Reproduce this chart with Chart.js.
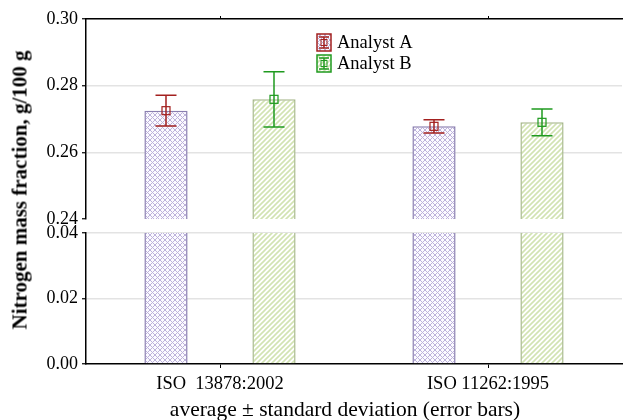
<!DOCTYPE html>
<html><head><meta charset="utf-8">
<script src="https://cdn.jsdelivr.net/npm/chart.js@4/dist/chart.umd.min.js"></script>
<style>
body{margin:0;background:#fff;width:623px;height:420px;overflow:hidden;position:relative;font-family:"Liberation Serif",serif}
canvas{position:absolute;left:0}
#top{top:0}
#bot{top:210px}
#ytitle{position:absolute;left:20px;top:190px;transform:translate(-50%,-50%) rotate(-90deg);white-space:nowrap;font:bold 21px "Liberation Serif",serif;line-height:1;color:#000}
#xtitle{position:absolute;left:345px;top:399px;transform:translateX(-50%);white-space:nowrap;font:21.5px "Liberation Serif",serif;line-height:1;color:#000}
</style></head><body>
<canvas id="top" width="623" height="240"></canvas>
<canvas id="bot" width="623" height="210"></canvas>
<div id="ytitle">Nitrogen mass fraction, g/100 g</div>
<div id="xtitle"></div>
<script>
const categories = ['ISO  13878:2002', 'ISO 11262:1995'];
const seriesNames = ['Analyst A', 'Analyst B'];
const meanA = [0.2725, 0.2678];
const meanB = [0.2759, 0.2690];
const sdA = [0.0046, 0.0020];
const sdB = [0.0083, 0.0040];
const upperTicks = [0.24, 0.26, 0.28, 0.30];
const lowerTicks = [0.00, 0.02, 0.04];
const xTitle = 'average \u00b1 standard deviation (error bars)';
document.getElementById('xtitle').textContent = xTitle;

const FONT = '"Liberation Serif", serif';
const errColors = ['#a3201f', '#1f9a1f'];
const borderColors = ['#8a7fb0', '#a9b98e'];

function makePattern(kind) {
  const c = document.createElement('canvas');
  const g = c.getContext('2d');
  c.width = 5; c.height = 5;
  if (kind === 'cross') {
    g.fillStyle = '#fbfaff'; g.fillRect(0, 0, 5, 5);
    g.strokeStyle = '#bdb2db'; g.lineWidth = 1;
    g.beginPath();
    g.moveTo(0, 0); g.lineTo(5, 5); g.moveTo(5, 0); g.lineTo(0, 5);
    g.stroke();
  } else {
    g.fillStyle = '#ffffff'; g.fillRect(0, 0, 5, 5);
    g.strokeStyle = '#d2e3b3'; g.lineWidth = 1.6;
    g.beginPath();
    g.moveTo(-1, 6); g.lineTo(6, -1);
    g.moveTo(-1, 1); g.lineTo(1, -1);
    g.moveTo(4, 6); g.lineTo(6, 4);
    g.stroke();
  }
  return g.createPattern(c, 'repeat');
}
const patterns = [makePattern('cross'), makePattern('stripe')];
const means = [meanA, meanB];
const sds = [sdA, sdB];

function datasets() {
  return seriesNames.map((name, i) => ({
    label: name,
    data: means[i],
    backgroundColor: patterns[i],
    borderColor: borderColors[i],
    borderWidth: 1.5,
    categoryPercentage: 0.806,
    barPercentage: 0.4,
    clip: 0
  }));
}

const errorBarPlugin = {
  id: 'errbars',
  afterDatasetsDraw(chart) {
    const ctx = chart.ctx, ys = chart.scales.y, a = chart.chartArea;
    ctx.save();
    ctx.beginPath(); ctx.rect(a.left, a.top - 1, a.right - a.left, a.bottom - a.top + 2); ctx.clip();
    chart.data.datasets.forEach((ds, i) => {
      const meta = chart.getDatasetMeta(i);
      meta.data.forEach((bar, j) => {
        const x = bar.x;
        const yT = ys.getPixelForValue(means[i][j] + sds[i][j]);
        const yB = ys.getPixelForValue(means[i][j] - sds[i][j]);
        const yM = ys.getPixelForValue(means[i][j]);
        ctx.strokeStyle = errColors[i]; ctx.lineWidth = 1.5;
        ctx.beginPath();
        ctx.moveTo(x, yT); ctx.lineTo(x, yB);
        ctx.moveTo(x - 10.5, yT); ctx.lineTo(x + 10.5, yT);
        ctx.moveTo(x - 10.5, yB); ctx.lineTo(x + 10.5, yB);
        ctx.stroke();
        ctx.lineWidth = 1.2;
        ctx.strokeRect(x - 4, yM - 4, 8, 8);
      });
    });
    ctx.restore();
  }
};

const legendPlugin = {
  id: 'customLegend',
  afterDraw(chart) {
    const ctx = chart.ctx;
    ctx.save();
    seriesNames.forEach((name, i) => {
      const x0 = 317, y0 = 34 + i * 21, w = 14, h = 17;
      ctx.fillStyle = patterns[i];
      ctx.fillRect(x0, y0, w, h);
      ctx.strokeStyle = errColors[i];
      ctx.lineWidth = 1.5;
      ctx.strokeRect(x0, y0, w, h);
      const cx = x0 + w / 2;
      ctx.beginPath();
      ctx.moveTo(x0 + 2, y0 + 3); ctx.lineTo(x0 + w - 2, y0 + 3);
      ctx.moveTo(x0 + 2, y0 + h - 3); ctx.lineTo(x0 + w - 2, y0 + h - 3);
      ctx.moveTo(cx, y0 + 3); ctx.lineTo(cx, y0 + h - 3);
      ctx.stroke();
      ctx.lineWidth = 1;
      ctx.strokeRect(cx - 3, y0 + h / 2 - 3, 6, 6);
      ctx.fillStyle = '#000';
      ctx.font = '18.5px ' + FONT;
      ctx.textBaseline = 'middle';
      ctx.textAlign = 'left';
      ctx.fillText(name, 337, y0 + h / 2 + 1);
    });
    ctx.restore();
  }
};

function yScale(min, max, tickVals, hideVal) {
  return {
    min: min, max: max,
    afterBuildTicks: s => { s.ticks = tickVals.map(v => ({ value: v })); },
    ticks: { callback: v => Number(v).toFixed(2), font: { family: FONT, size: 18 }, color: '#000', padding: 4 },
    grid: {
      color: c => (c.tick && Math.abs(c.tick.value - hideVal) < 1e-9) ? 'rgba(0,0,0,0)' : '#e3e3e3',
      lineWidth: 1.5, tickLength: 4, tickColor: '#000', tickWidth: 1.2
    },
    border: { display: true, color: '#000', width: 1.5 },
    afterFit: s => { s.width = 86; }
  };
}

new Chart(document.getElementById('top'), {
  type: 'bar',
  data: { labels: categories, datasets: datasets() },
  options: {
    responsive: false, animation: false,
    layout: { padding: { top: 19, bottom: 21, left: 0, right: 1 } },
    plugins: { legend: { display: false }, tooltip: { enabled: false } },
    scales: {
      x: { display: false },
      xt: {
        type: 'category', labels: categories, position: 'top',
        grid: { drawOnChartArea: false, offset: false, tickLength: 3, tickColor: '#000' },
        border: { display: true, color: '#000', width: 1.5 },
        ticks: { display: false },
        afterFit: s => { s.height = 0; }
      },
      y: yScale(0.24, 0.30, upperTicks, 0.24)
    }
  },
  plugins: [errorBarPlugin, legendPlugin]
});

new Chart(document.getElementById('bot'), {
  type: 'bar',
  data: { labels: categories, datasets: datasets() },
  options: {
    responsive: false, animation: false,
    layout: { padding: { top: 23, bottom: 0, left: 0, right: 1 } },
    plugins: { legend: { display: false }, tooltip: { enabled: false } },
    scales: {
      x: {
        grid: { drawOnChartArea: false, offset: false, tickLength: 4, tickColor: '#000' },
        border: { display: true, color: '#000', width: 1.5 },
        ticks: { font: { family: FONT, size: 18.5 }, color: '#000', padding: 5 },
        afterFit: s => { s.height = 56; }
      },
      y: yScale(0, 0.04, lowerTicks, 0)
    }
  }
});
</script>
</body></html>
